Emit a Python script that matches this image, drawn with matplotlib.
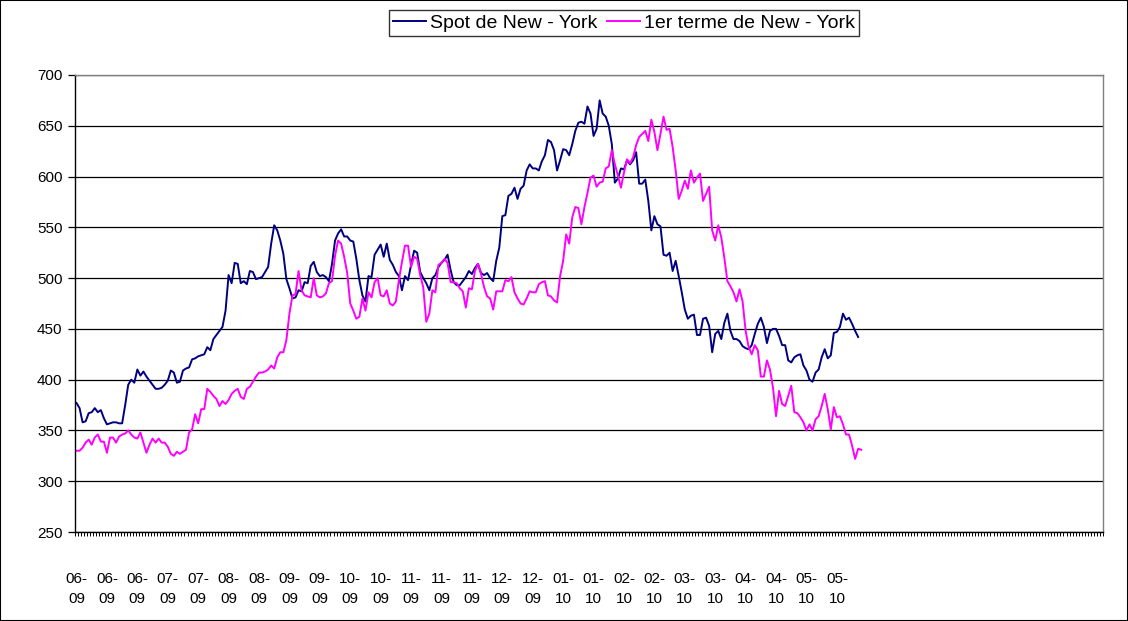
import numpy as np
import matplotlib
matplotlib.use("Agg")
from matplotlib import pyplot as plt
from matplotlib.patches import Rectangle

plt.rcParams['font.family'] = ['Liberation Sans', 'DejaVu Sans']

# daily quotes, one per category on the x axis
spot = [
    377, 372, 358, 359, 367, 368, 372, 368, 370, 362,
    356, 357, 358, 358, 357, 357, 375, 395, 400, 397,
    410, 404, 408, 403, 399, 395, 391, 391, 392, 395,
    399, 409, 407, 397, 398, 409, 411, 412, 420, 421,
    423, 424, 425, 432, 429, 440, 444, 448, 452, 468,
    503, 495, 515, 514, 495, 497, 494, 507, 506, 499,
    500, 501, 506, 511, 534, 552, 547, 537, 524, 499,
    490, 480, 481, 488, 487, 496, 495, 512, 516, 506,
    502, 503, 501, 497, 514, 537, 544, 548, 541, 541,
    537, 536, 519, 498, 483, 477, 502, 501, 523, 528,
    533, 521, 534, 518, 513, 506, 502, 488, 502, 498,
    513, 527, 525, 506, 500, 495, 488, 500, 503, 511,
    515, 518, 523, 508, 496, 493, 493, 497, 501, 507,
    504, 510, 514, 505, 503, 505, 500, 497, 517, 530,
    561, 562, 581, 583, 589, 578, 588, 591, 606, 612,
    608, 608, 606, 615, 621, 636, 634, 626, 606, 616,
    627, 626, 621, 632, 645, 653, 654, 652, 669, 662,
    640, 647, 675, 662, 659, 650, 632, 594, 598, 608,
    607, 616, 612, 616, 624, 593, 593, 597, 576, 547,
    561, 553, 551, 523, 522, 525, 507, 517, 502, 486,
    469, 460, 463, 464, 444, 444, 460, 461, 453, 427,
    445, 448, 440, 456, 465, 448, 440, 440, 438, 433,
    431, 430, 434, 445, 455, 461, 452, 436, 448, 450,
    450, 443, 434, 434, 419, 417, 422, 424, 425, 414,
    409, 400, 398, 407, 410, 422, 430, 421, 424, 446,
    447, 452, 465, 459, 461, 455, 448, 442,
]

terme = [
    330, 330, 333, 338, 341, 336, 343, 346, 339, 339,
    328, 343, 343, 338, 344, 346, 347, 350, 346, 343,
    342, 348, 338, 328, 336, 342, 338, 342, 338, 338,
    334, 327, 325, 329, 327, 329, 331, 348, 351, 366,
    357, 371, 371, 391, 388, 384, 381, 374, 379, 376,
    380, 386, 389, 391, 383, 381, 391, 393, 398, 403,
    407, 407, 408, 410, 414, 411, 422, 427, 427, 439,
    465, 483, 484, 507, 488, 483, 482, 481, 500, 483,
    481, 482, 485, 495, 497, 522, 537, 534, 521, 505,
    475, 468, 460, 462, 480, 468, 486, 481, 496, 500,
    483, 482, 488, 475, 473, 477, 498, 516, 532, 532,
    511, 521, 519, 503, 491, 457, 465, 488, 486, 513,
    515, 519, 515, 496, 496, 495, 490, 487, 471, 490,
    489, 507, 514, 504, 491, 482, 480, 469, 487, 487,
    487, 498, 497, 501, 486, 480, 475, 474, 480, 487,
    486, 486, 494, 496, 497, 483, 482, 478, 476, 502,
    517, 543, 534, 560, 570, 569, 553, 570, 584, 599,
    601, 590, 594, 595, 608, 610, 626, 612, 601, 589,
    604, 617, 613, 619, 631, 639, 642, 645, 635, 656,
    644, 626, 642, 659, 646, 647, 629, 606, 578, 586,
    596, 588, 606, 594, 599, 603, 576, 583, 590, 547,
    537, 552, 540, 520, 497, 492, 486, 477, 489, 477,
    448, 432, 425, 434, 429, 403, 403, 419, 410, 392,
    364, 389, 376, 374, 384, 394, 368, 367, 363, 358,
    350, 356, 350, 361, 364, 374, 386, 371, 351, 373,
    363, 364, 356, 346, 346, 335, 322, 332, 331,
]

tick_labels = (["06-\n09"] * 3 + ["07-\n09"] * 2 + ["08-\n09"] * 2 + ["09-\n09"] * 2
               + ["10-\n09"] * 2 + ["11-\n09"] * 3 + ["12-\n09"] * 2 + ["01-\n10"] * 2
               + ["02-\n10"] * 2 + ["03-\n10"] * 2 + ["04-\n10"] * 2 + ["05-\n10"] * 2)
n_categories = 338

fig = plt.figure(figsize=(11.28, 6.21), dpi=100)
ax = fig.add_axes([75 / 1128, 1 - 532 / 621, 1028 / 1128, 457 / 621])

ax.plot(np.arange(len(spot)), spot, color='#000080', lw=1.4, label='Spot de New - York')
ax.plot(np.arange(len(terme)), terme, color='#FF00FF', lw=1.4, label='1er terme de New - York')

ax.set_xlim(-0.5, n_categories - 0.5)
ax.set_ylim(250, 700)
ax.set_yticks(np.arange(250, 701, 50))
ax.yaxis.grid(True, color='black', lw=0.9)
ax.set_axisbelow(True)
ax.tick_params(axis='y', direction='out', length=5, width=0.9, labelsize=11, pad=4)

ax.set_xticks(np.arange(0, 10 * len(tick_labels), 10))
ax.set_xticklabels(tick_labels, fontsize=11, linespacing=1.55)
ax.set_xticks(np.arange(-0.5, n_categories, 1), minor=True)
ax.tick_params(axis='x', which='major', length=0, pad=29)
ax.tick_params(axis='x', which='minor', direction='out', length=3, width=0.7)

for side in ('left', 'bottom'):
    ax.spines[side].set_color('black')
    ax.spines[side].set_linewidth(1.0)
for side in ('top', 'right'):
    ax.spines[side].set_color('#808080')
    ax.spines[side].set_linewidth(1.0)

leg = fig.legend(loc='center', bbox_to_anchor=(624 / 1128, 1 - 23 / 621), ncol=2,
                 fontsize=14, frameon=True, fancybox=False, handlelength=1.7,
                 columnspacing=0.5, handletextpad=0.2, borderpad=0.2, borderaxespad=0)
leg.get_frame().set_edgecolor('black')
leg.get_frame().set_linewidth(1.0)

fig.patches.append(Rectangle((0, 0), 1, 1, transform=fig.transFigure, fill=False,
                             edgecolor='black', lw=1.5))

fig.savefig('out.png', dpi=100)
